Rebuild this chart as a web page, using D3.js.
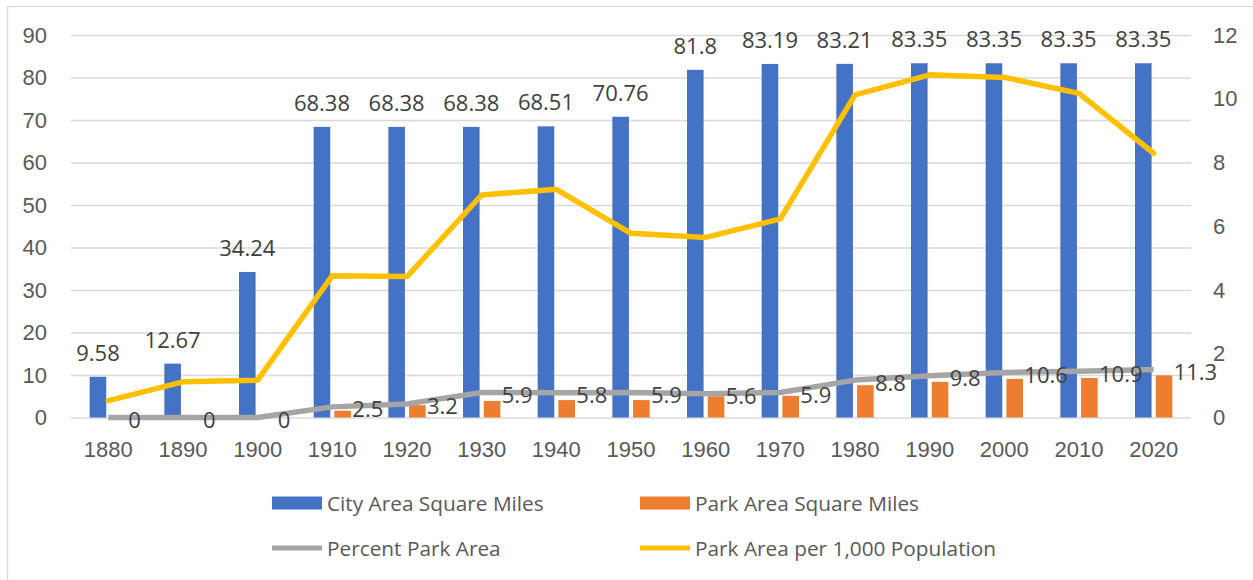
<!DOCTYPE html>
<html>
<head>
<meta charset="utf-8">
<script src="https://cdn.jsdelivr.net/npm/d3@7/dist/d3.min.js"></script>
<style>
  html, body { margin: 0; padding: 0; background: #fff; }
  svg { display: block; font-family: "Open Sans", "Noto Sans", sans-serif; }
</style>
</head>
<body>
<svg id="chart" width="1253" height="580"></svg>
<script>
// Decades on the category axis
const years = ["1880","1890","1900","1910","1920","1930","1940","1950","1960","1970","1980","1990","2000","2010","2020"];
// City area, square miles (left axis)
const cityArea = [9.58, 12.67, 34.24, 68.38, 68.38, 68.38, 68.51, 70.76, 81.8, 83.19, 83.21, 83.35, 83.35, 83.35, 83.35];
// Park area, square miles (left axis)
const parkArea = [0, 0, 0, 1.6, 2.9, 3.9, 4.1, 4.1, 5.0, 5.1, 7.6, 8.4, 9.1, 9.3, 9.9];
// Percent of the city that is park (left axis)
const percentPark = [0, 0, 0, 2.5, 3.2, 5.9, 5.8, 5.9, 5.6, 5.9, 8.8, 9.8, 10.6, 10.9, 11.3];
// Park area per 1,000 residents (right axis)
const parkPer1000 = [0.53, 1.12, 1.17, 4.45, 4.42, 6.98, 7.16, 5.78, 5.65, 6.23, 10.12, 10.75, 10.67, 10.17, 8.29];
// Axis ticks
const leftTicks = [0, 10, 20, 30, 40, 50, 60, 70, 80, 90];
const rightTicks = [0, 2, 4, 6, 8, 10, 12];
// Legend entries
const legendNames = ["City Area Square Miles", "Park Area Square Miles", "Percent Park Area", "Park Area per 1,000 Population"];

const colors = { city: "#4472C4", park: "#ED7D31", pct: "#A5A5A5", per: "#FFC000" };
const axisText = "#595959", labelText = "#404040";

const svg = d3.select("#chart");
const plot = { left: 71, right: 1191, top: 35, bottom: 417.5 };

// chart frame
svg.append("rect")
  .attr("x", 7.5).attr("y", 6.5).attr("width", 1300).attr("height", 700)
  .attr("fill", "none").attr("stroke", "#D9D9D9").attr("stroke-width", 1.3);

const x = d3.scaleBand().domain(years).range([plot.left, plot.right]).padding(0);
const half = x.bandwidth() / 4;
const xs = d3.scaleBand().domain(["city", "park"]).range([-half, half]).paddingInner(0.2);
const yL = d3.scaleLinear().domain([0, 90]).range([plot.bottom, plot.top]);
const yR = d3.scaleLinear().domain([0, 12]).range([plot.bottom, plot.top]);
const cx = y => x(y) + x.bandwidth() / 2;

// gridlines
svg.append("g")
  .attr("transform", `translate(${plot.left},0)`)
  .call(d3.axisLeft(yL).tickValues(leftTicks).tickSize(-(plot.right - plot.left)).tickFormat(""))
  .call(g => g.select(".domain").remove())
  .call(g => g.selectAll("line").attr("stroke", "#D9D9D9").attr("stroke-width", 1.3));

// axes
const fontSize = "22px";
svg.append("g")
  .attr("transform", `translate(${plot.left},0)`)
  .call(d3.axisLeft(yL).tickValues(leftTicks).tickSize(0).tickPadding(24))
  .call(g => g.select(".domain").remove())
  .call(g => g.selectAll("text").attr("fill", axisText).style("font-size", fontSize).style("font-family", null));

svg.append("g")
  .attr("transform", `translate(${plot.right},0)`)
  .call(d3.axisRight(yR).tickValues(rightTicks).tickSize(0).tickPadding(22))
  .call(g => g.select(".domain").remove())
  .call(g => g.selectAll("text").attr("fill", axisText).style("font-size", fontSize).style("font-family", null));

svg.append("g")
  .attr("transform", `translate(0,${plot.bottom})`)
  .call(d3.axisBottom(x).tickSize(0).tickPadding(0))
  .call(g => g.select(".domain").remove())
  .call(g => g.selectAll("text").attr("fill", axisText).attr("y", 39).attr("dy", null)
    .style("font-size", fontSize).style("font-family", null));

// bars
const rows = years.map((y, i) => ({ year: y, city: cityArea[i], park: parkArea[i], pct: percentPark[i], per: parkPer1000[i] }));

svg.append("g").selectAll("rect.city").data(rows).join("rect")
  .attr("x", d => cx(d.year) + xs("city"))
  .attr("width", xs.bandwidth())
  .attr("y", d => yL(d.city))
  .attr("height", d => yL(0) - yL(d.city))
  .attr("fill", colors.city);

svg.append("g").selectAll("rect.park").data(rows.filter(d => d.park > 0)).join("rect")
  .attr("x", d => cx(d.year) + xs("park"))
  .attr("width", xs.bandwidth())
  .attr("y", d => yL(d.park))
  .attr("height", d => yL(0) - yL(d.park))
  .attr("fill", colors.park);

// lines
const pctLine = d3.line().x(d => cx(d.year)).y(d => yL(d.pct));
const perLine = d3.line().x(d => cx(d.year)).y(d => yR(d.per));

svg.append("path").datum(rows).attr("d", pctLine)
  .attr("fill", "none").attr("stroke", colors.pct).attr("stroke-width", 5.5)
  .attr("stroke-linejoin", "round").attr("stroke-linecap", "butt");
svg.append("path").datum(rows).attr("d", perLine)
  .attr("fill", "none").attr("stroke", colors.per).attr("stroke-width", 5.5)
  .attr("stroke-linejoin", "round").attr("stroke-linecap", "round");

// value labels: city area above each bar
svg.append("g").selectAll("text").data(rows).join("text")
  .attr("x", d => cx(d.year) + xs("city") + xs.bandwidth() / 2)
  .attr("y", d => yL(d.city) - 16)
  .attr("text-anchor", "middle")
  .attr("fill", labelText).style("font-size", fontSize)
  .text(d => d.city);

// value labels: percent park to the right of each point
svg.append("g").selectAll("text").data(rows).join("text")
  .attr("x", d => cx(d.year) + 20)
  .attr("y", d => yL(d.pct) + 10.5)
  .attr("fill", labelText).style("font-size", fontSize)
  .text(d => d.pct);

// legend
const legend = svg.append("g");
const legendItems = [
  { name: legendNames[0], type: "rect", color: colors.city, x: 272, y: 503, ty: 510.5 },
  { name: legendNames[1], type: "rect", color: colors.park, x: 640, y: 503, ty: 510.5 },
  { name: legendNames[2], type: "line", color: colors.pct, x: 272, y: 548, ty: 555.5 },
  { name: legendNames[3], type: "line", color: colors.per, x: 640, y: 548, ty: 555.5 }
];
legendItems.forEach(it => {
  if (it.type === "rect") {
    legend.append("rect").attr("x", it.x).attr("y", it.y - 6.5).attr("width", 50).attr("height", 13).attr("fill", it.color);
  } else {
    legend.append("line").attr("x1", it.x).attr("x2", it.x + 50).attr("y1", it.y).attr("y2", it.y)
      .attr("stroke", it.color).attr("stroke-width", 5);
  }
  legend.append("text")
    .attr("x", it.x + 55).attr("y", it.ty)
    .attr("fill", axisText).style("font-size", "20.8px")
    .text(it.name);
});
</script>
</body>
</html>
